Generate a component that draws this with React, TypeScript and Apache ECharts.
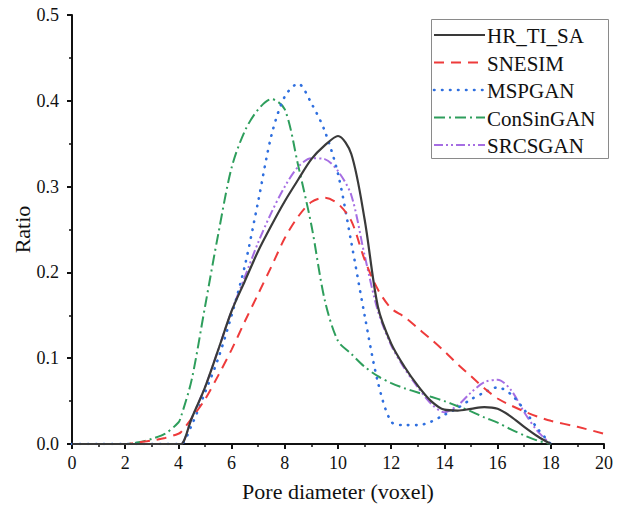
import React, { useEffect, useRef } from "react";
import * as echarts from "echarts";

const xs = [0, 1, 2, 2.5, 3, 3.5, 4, 4.1, 4.5, 5, 5.5, 6, 6.5, 7, 7.5, 8, 8.5, 9, 9.5, 10, 10.5, 11, 11.5, 12, 12.5, 13, 13.5, 14, 14.5, 15, 15.5, 16, 16.5, 17, 17.5, 18, 19, 20];

const hrTiSa = [0, 0, 0, 0, 0, 0, 0, 0, 0.03, 0.066, 0.11, 0.155, 0.19, 0.225, 0.255, 0.283, 0.308, 0.332, 0.348, 0.359, 0.338, 0.262, 0.16, 0.117, 0.09, 0.068, 0.05, 0.04, 0.039, 0.041, 0.043, 0.041, 0.032, 0.02, 0.009, 0, null, null];
const snesim = [0, 0, 0, 0.002, 0.004, 0.007, 0.012, 0.014, 0.03, 0.052, 0.08, 0.11, 0.143, 0.175, 0.207, 0.24, 0.265, 0.282, 0.287, 0.28, 0.26, 0.215, 0.18, 0.158, 0.148, 0.135, 0.122, 0.108, 0.093, 0.079, 0.065, 0.053, 0.045, 0.038, 0.032, 0.027, 0.02, 0.012];
const mspgan = [0, 0, 0, 0, 0, 0, 0, 0, 0.022, 0.06, 0.1, 0.15, 0.208, 0.283, 0.36, 0.405, 0.42, 0.397, 0.365, 0.315, 0.235, 0.15, 0.072, 0.026, 0.022, 0.022, 0.026, 0.034, 0.042, 0.052, 0.06, 0.066, 0.058, 0.04, 0.018, 0, null, null];
const consingan = [0, 0, 0, 0.002, 0.006, 0.012, 0.025, 0.032, 0.075, 0.16, 0.245, 0.322, 0.365, 0.39, 0.402, 0.39, 0.325, 0.255, 0.168, 0.12, 0.105, 0.09, 0.079, 0.071, 0.065, 0.06, 0.055, 0.05, 0.044, 0.038, 0.031, 0.025, 0.017, 0.01, 0.004, 0, null, null];
const srcsgan = [0, 0, 0, 0, 0, 0, 0, 0, 0.03, 0.066, 0.11, 0.155, 0.195, 0.235, 0.27, 0.3, 0.323, 0.333, 0.332, 0.318, 0.29, 0.22, 0.155, 0.115, 0.088, 0.066, 0.047, 0.037, 0.045, 0.06, 0.072, 0.075, 0.063, 0.037, 0.015, 0, null, null];

const seriesNames = ["HR_TI_SA", "SNESIM", "MSPGAN", "ConSinGAN", "SRCSGAN"];
const seriesValues = [hrTiSa, snesim, mspgan, consingan, srcsgan];
const colors = ["#3a3a3a", "#ee3b3b", "#2f6fdf", "#2e9e5c", "#a66ee3"];
const dashes: any[] = [null, [10, 7], [0.5, 7.5], [11, 4, 2, 4], [9, 3, 2, 3, 2, 3]];

const FONT = "'Liberation Serif', 'Times New Roman', serif";

export default function App() {
  const ref = useRef<HTMLDivElement>(null);
  useEffect(() => {
    const chart = echarts.init(ref.current!, null, { renderer: "svg" });
    const legendTop = 19;
    const rowGap = 27.5;
    const legendEls: any[] = [
      {
        type: "rect",
        shape: { x: 431.5, y: legendTop + 0.5, width: 177, height: 139 },
        style: { fill: "#fff", stroke: "#8a8a8a", lineWidth: 1 },
        z: 100,
      },
    ];
    seriesNames.forEach((name, i) => {
      const cy = legendTop + 16 + i * rowGap;
      legendEls.push({
        type: "line",
        shape: { x1: 434, y1: cy, x2: 485, y2: cy },
        style: {
          stroke: colors[i],
          lineWidth: i === 2 ? 2.6 : 2,
          lineDash: dashes[i] || undefined,
          lineCap: i === 2 ? "round" : "butt",
        },
        z: 101,
      });
      legendEls.push({
        type: "text",
        x: 487,
        y: cy + 1,
        style: { text: name, font: `21px ${FONT}`, fill: "#111", verticalAlign: "middle", align: "left" },
        z: 101,
      });
    });
    chart.setOption({
      animation: false,
      backgroundColor: "#fff",
      grid: { left: 72, right: 16, top: 15, bottom: 61, containLabel: false, outerBoundsMode: "none" },
      graphic: legendEls,
      xAxis: {
        type: "value",
        min: 0,
        max: 20,
        interval: 2,
        name: "Pore diameter (voxel)",
        nameLocation: "middle",
        nameGap: 36,
        nameMoveOverlap: false,
        nameTextStyle: { fontFamily: FONT, fontSize: 22, color: "#111" },
        axisLine: { lineStyle: { color: "#111", width: 2 } },
        axisTick: { inside: false, length: 5, lineStyle: { color: "#111", width: 2 } },
        minorTick: { show: true, splitNumber: 2, length: 3, lineStyle: { color: "#111", width: 1.5 } },
        axisLabel: { fontFamily: FONT, fontSize: 18, color: "#111", margin: 10 },
        splitLine: { show: false },
      },
      yAxis: {
        type: "value",
        min: 0,
        max: 0.5,
        interval: 0.1,
        name: "Ratio",
        nameLocation: "middle",
        nameGap: 39,
        nameMoveOverlap: false,
        nameTextStyle: { fontFamily: FONT, fontSize: 22, color: "#111" },
        axisLine: { show: true, lineStyle: { color: "#111", width: 2 } },
        axisTick: { show: true, inside: false, length: 5, lineStyle: { color: "#111", width: 2 } },
        minorTick: { show: true, splitNumber: 2, length: 3, lineStyle: { color: "#111", width: 1.5 } },
        axisLabel: { fontFamily: FONT, fontSize: 18, color: "#111", margin: 13, formatter: (v: number) => v.toFixed(1) },
        splitLine: { show: false },
      },
      series: seriesNames.map((name, i) => ({
        name,
        type: "line",
        smooth: 0.3,
        showSymbol: false,
        symbol: "none",
        color: colors[i],
        lineStyle: {
          color: colors[i],
          width: i === 0 ? 2.2 : i === 2 ? 2.6 : 2,
          type: dashes[i] || "solid",
          cap: i === 2 ? "round" : "butt",
        },
        data: xs.map((x, j) => [x, seriesValues[i][j]]),
        z: 10 - i,
      })),
    });
    return () => chart.dispose();
  }, []);
  return <div ref={ref} style={{ width: 620, height: 505, position: "absolute", left: 0, top: 0 }} />;
}
